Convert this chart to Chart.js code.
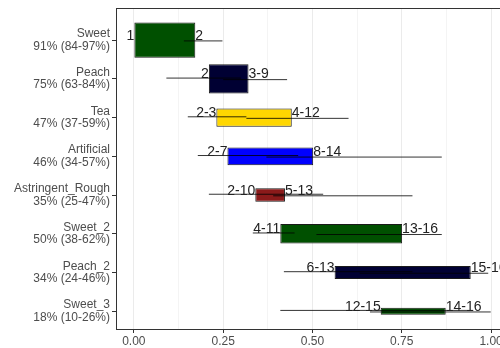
<!DOCTYPE html>
<html>
<head>
<meta charset="utf-8">
<script src="https://cdn.jsdelivr.net/npm/chart.js@4"></script>
<style>
  html, body { margin: 0; padding: 0; background: #fff; }
  #wrap { width: 500px; height: 348px; }
</style>
</head>
<body>
<div id="wrap"><canvas id="rankChart"></canvas></div>
<script>
const categories = ['Sweet', 'Peach', 'Tea', 'Artificial', 'Astringent_Rough', 'Sweet_2', 'Peach_2', 'Sweet_3'];
const pct = [91, 75, 47, 46, 35, 50, 34, 18];
const pctLow = [84, 63, 37, 34, 25, 38, 24, 10];
const pctHigh = [97, 84, 59, 57, 47, 62, 46, 26];

const boxStart = [0, 0.210, 0.231, 0.262, 0.340, 0.410, 0.562, 0.691];
const boxEnd = [0.172, 0.321, 0.442, 0.502, 0.423, 0.751, 0.943, 0.873];
const startLabels = ['1', '2', '2-3', '2-7', '2-10', '4-11', '6-13', '12-15'];
const endLabels = ['2', '3-9', '4-12', '8-14', '5-13', '13-16', '15-16', '14-16'];

const startCiLow = [0, 0.091, 0.151, 0.179, 0.210, 0.333, 0.420, 0.410];
const startCiHigh = [0, 0.300, 0.315, 0.460, 0.530, 0.450, 0.780, 0.950];
const endCiLow = [0.140, 0.250, 0.315, 0.371, 0.390, 0.511, 0.632, 0.661];
const endCiHigh = [0.248, 0.429, 0.601, 0.862, 0.780, 0.862, 0.992, 0.999];

const xTicks = [0, 0.25, 0.5, 0.75, 1];
const xTickLabels = ['0.00', '0.25', '0.50', '0.75', '1.00'];
const xMinorTicks = [0.125, 0.375, 0.625, 0.875];

// styles
const boxColors = ['#005000', '#000033', '#ffd700', '#0000ff', '#8b1a1a', '#005000', '#000033', '#005000'];
const lineOffset = 0.02;
const axisColor = '#333333';
const textFont = "'Liberation Sans', Arial, sans-serif";

function ciSegments(lo, hi, shift) {
  const pts = [];
  categories.forEach((c, i) => {
    const y = i + 1 + shift;
    pts.push({ x: lo[i], y: y }, { x: hi[i], y: y }, { x: hi[i], y: null });
  });
  return pts;
}

const boxSets = categories.map((c, i) => ({
  type: 'bar',
  label: c,
  indexAxis: 'y',
  data: [{ x: [boxStart[i], boxEnd[i]], y: i + 1 }],
  backgroundColor: boxColors[i],
  borderColor: '#1a1a1a',
  borderWidth: 1,
  borderSkipped: false,
  grouped: false,
  categoryPercentage: 1,
  barPercentage: pct[i] / 100,
  order: 2
}));

const lineStyle = {
  type: 'line',
  borderColor: 'rgba(0,0,0,0.8)',
  borderWidth: 1,
  pointRadius: 0,
  tension: 0,
  fill: false,
  order: 1
};

const labelPlugin = {
  id: 'rankLabels',
  afterDatasetsDraw(chart) {
    const c = chart.ctx;
    c.save();
    c.font = '14px ' + textFont;
    c.fillStyle = '#222222';
    c.textBaseline = 'alphabetic';
    categories.forEach((cat, i) => {
      const el = chart.getDatasetMeta(i).data[0];
      if (!el) return;
      const yb = el.y - 0.5;
      c.textAlign = 'right';
      c.fillText(startLabels[i], Math.min(el.base, el.x), yb);
      c.textAlign = 'left';
      c.fillText(endLabels[i], Math.max(el.base, el.x), yb);
    });
    c.restore();
  }
};

const chart = new Chart(document.getElementById('rankChart'), {
  type: 'bar',
  data: {
    datasets: [
      ...boxSets,
      Object.assign({ label: 'start CI', data: ciSegments(startCiLow, startCiHigh, -lineOffset) }, lineStyle),
      Object.assign({ label: 'end CI', data: ciSegments(endCiLow, endCiHigh, lineOffset) }, lineStyle)
    ]
  },
  options: {
    responsive: true,
    maintainAspectRatio: false,
    animation: false,
    layout: { padding: { top: 8, left: 0, right: 0, bottom: 0 } },
    plugins: {
      legend: { display: false },
      tooltip: { enabled: false }
    },
    scales: {
      x: {
        type: 'linear',
        position: 'bottom',
        offset: false,
        min: -0.05,
        max: 1.025,
        afterBuildTicks(s) {
          s.ticks = xTicks.concat(xMinorTicks).sort((a, b) => a - b).map(v => ({ value: v }));
        },
        afterFit(s) {
          s.paddingLeft = 0;
          s.paddingRight = 0;
          s.height = 19;
        },
        ticks: {
          autoSkip: false,
          maxRotation: 0,
          padding: 1,
          color: '#4d4d4d',
          font: { family: textFont, size: 12 },
          callback: (v) => {
            const k = xTicks.indexOf(v);
            return k >= 0 ? xTickLabels[k] : '';
          }
        },
        grid: {
          offset: false,
          color: (ctx) => xTicks.includes(ctx.tick && ctx.tick.value) ? '#ebebeb' : '#f4f4f4',
          tickColor: (ctx) => xTicks.includes(ctx.tick && ctx.tick.value) ? axisColor : 'rgba(0,0,0,0)',
          tickLength: 4,
          lineWidth: 1
        },
        border: { display: true, color: axisColor, width: 1 }
      },
      xTop: {
        type: 'linear',
        position: 'top',
        offset: false,
        min: -0.05,
        max: 1.025,
        ticks: { display: false },
        grid: { display: false, drawTicks: false, offset: false },
        border: { display: true, color: axisColor, width: 1 },
        afterFit(s) {
          s.height = 0;
          s.paddingLeft = 0;
          s.paddingRight = 0;
        }
      },
      y: {
        type: 'linear',
        position: 'left',
        offset: false,
        reverse: true,
        min: 0.17,
        max: 8.46,
        afterBuildTicks(s) {
          s.ticks = categories.map((c, i) => ({ value: i + 1 }));
        },
        afterFit(s) {
          s.width = 116;
          s.paddingTop = 0;
          s.paddingBottom = 0;
        },
        ticks: {
          autoSkip: false,
          padding: 2,
          color: '#4d4d4d',
          font: { family: textFont, size: 12, lineHeight: 1.03 },
          callback: (v) => {
            const i = Math.round(v) - 1;
            return [categories[i], pct[i] + '% (' + pctLow[i] + '-' + pctHigh[i] + '%)'];
          }
        },
        grid: {
          offset: false,
          drawOnChartArea: false,
          drawTicks: true,
          tickLength: 4,
          tickColor: axisColor
        },
        border: { display: true, color: axisColor, width: 1 }
      }
    }
  },
  plugins: [labelPlugin]
});
</script>
</body>
</html>
